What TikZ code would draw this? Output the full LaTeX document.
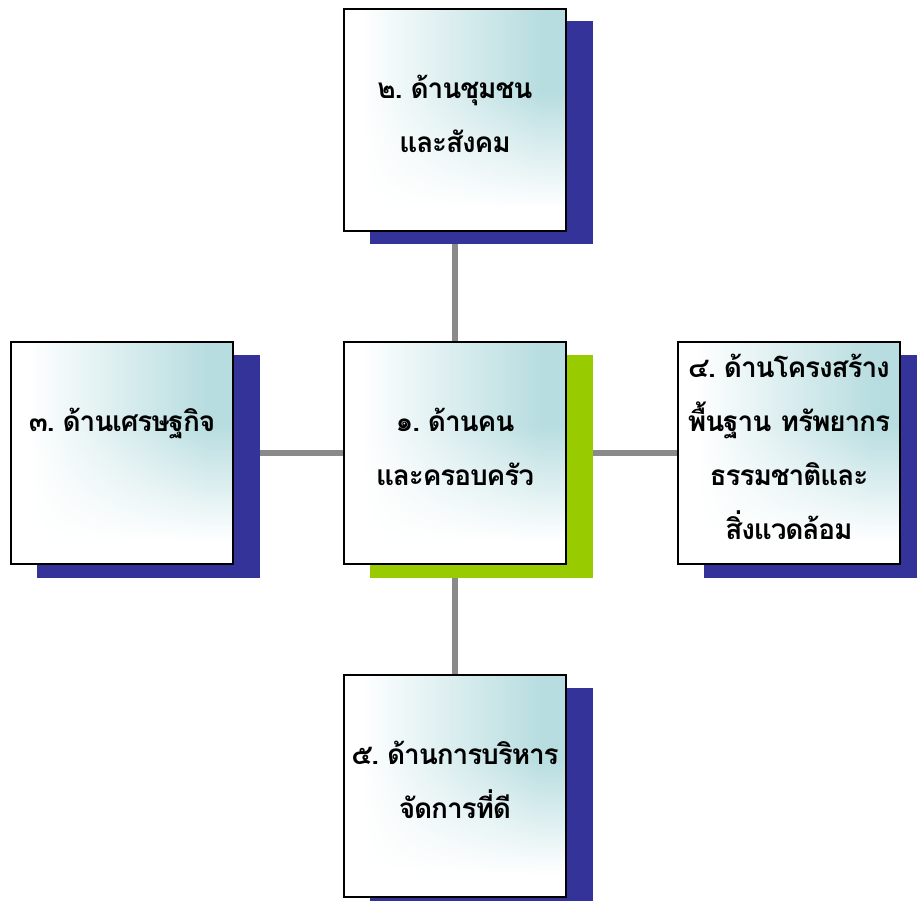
\documentclass[tikz,border=0pt]{standalone}
\usepackage{fontspec}
\usetikzlibrary{shadows,backgrounds}
\newfontfamily\thaifont[Script=Thai,LetterSpace=-4]{Loma}
\newcommand{\numgap}{\kern-4.5bp\relax}
\definecolor{bluesh}{RGB}{51,51,153}
\definecolor{greensh}{RGB}{153,204,0}
\definecolor{connc}{RGB}{138,138,138}
\pgfdeclarefunctionalshading{cornerteal}{\pgfpoint{-50bp}{-50bp}}{\pgfpoint{50bp}{50bp}}{}{
  25 add 50 div 0.1 sub 0.52 div dup 0 lt {pop 0} if dup 1 gt {pop 1} if
  exch
  25 add 50 div 0.08 sub 0.8 div dup 0 lt {pop 0} if dup 1 gt {pop 1} if
  mul
  dup -0.278 mul 1 add
  exch dup -0.133 mul 1 add
  exch -0.122 mul 1 add
}
\tikzset{
  every node/.style={font=\thaifont\bfseries\fontsize{21bp}{40.5bp}\selectfont},
  boxbase/.style={draw=black,line width=1.5bp,shading=cornerteal,minimum width=166.5bp,minimum height=166.5bp,
    inner sep=0pt,align=center,text width=166.5bp,text depth=49.5bp},
  bluebox/.style={boxbase,general shadow={fill=bluesh,draw=none,shadow xshift=19.8bp,shadow yshift=-9.9bp,shadow scale=1.005}},
  greenbox/.style={boxbase,general shadow={fill=greensh,draw=none,shadow xshift=19.8bp,shadow yshift=-9.9bp,shadow scale=1.005}},
  linkline/.style={draw=connc,line width=4.5bp}
}
\begin{document}
\begin{tikzpicture}[x=0.75bp,y=-0.75bp]
\useasboundingbox (0,0) rectangle (917,901);
\node[greenbox] (c) at (455,453) {๑. \numgap ด้านคน\\และครอบครัว};
\node[bluebox] (t) at (455,119.5) {๒. \numgap ด้านชุมชน\\และสังคม};
\node[bluebox] (l) at (122,453) {๓. \numgap ด้านเศรษฐกิจ};
\node[bluebox,text depth=131bp] (r) at (789,453) {๔. \numgap ด้านโครงสร้าง\\พื้นฐาน ทรัพยากร\\ธรรมชาติและ\\สิ่งแวดล้อม};
\node[bluebox] (b) at (455,786) {๕. \numgap ด้านการบริหาร\\จัดการที่ดี};
\begin{scope}[on background layer]
\draw[linkline] (c.center) -- (t.center);
\draw[linkline] (c.center) -- (l.center);
\draw[linkline] (c.center) -- (r.center);
\draw[linkline] (c.center) -- (b.center);
\end{scope}
\end{tikzpicture}
\end{document}
